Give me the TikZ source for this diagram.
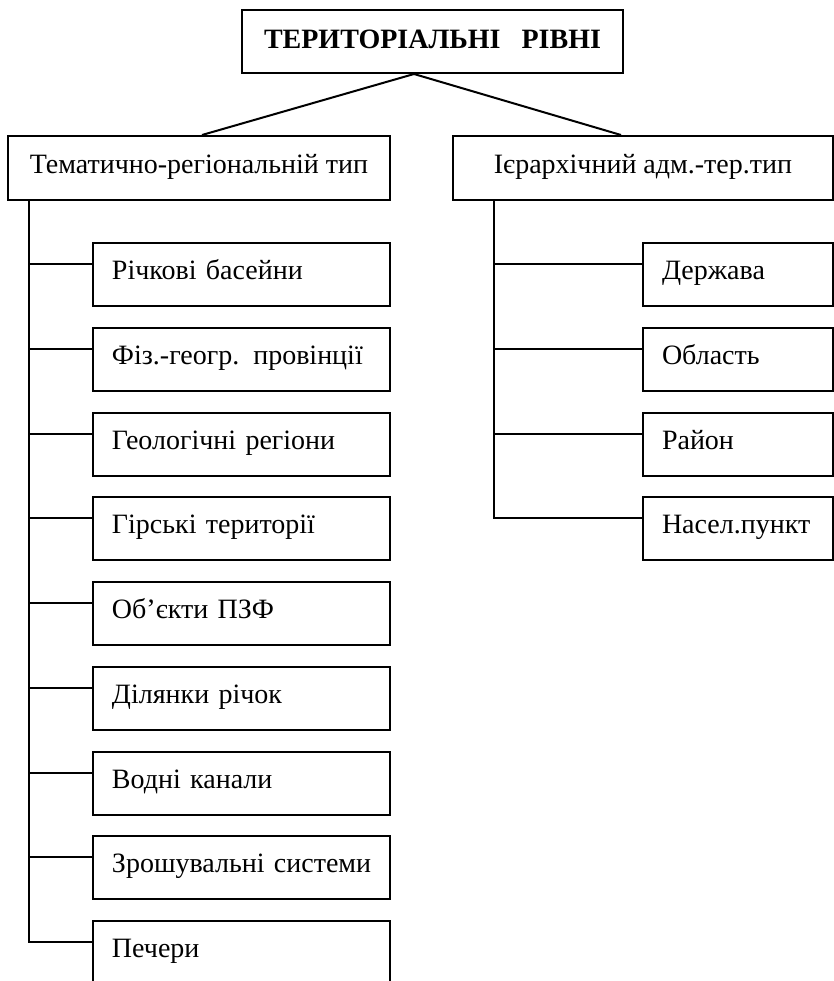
\documentclass[tikz,border=0pt]{standalone}
\usepackage{fontspec}
\setmainfont{Liberation Serif}
\usetikzlibrary{positioning}
\tikzstyle{title} = [rectangle, minimum width=190.5pt, minimum height=31.5pt, text height=10pt, text depth=3.5pt, text centered, draw=black, line width=1pt, font=\fontsize{14}{16}\selectfont\bfseries]
\tikzstyle{branch} = [rectangle, minimum width=191pt, minimum height=32pt, text height=10pt, text depth=5pt, text centered, draw=black, line width=1pt, font=\fontsize{14}{16}\selectfont]
\tikzstyle{leaf} = [rectangle, inner xsep=4.75pt, text width=139pt, minimum height=31.5pt, text height=10pt, text depth=5pt, align=left, draw=black, line width=1pt, font=\fontsize{14}{16}\selectfont, execute at begin node={\hspace*{4.75pt}}]
\tikzstyle{unit} = [leaf, text width=85.5pt]
\tikzstyle{link} = [line width=1pt]

\begin{document}
\begin{tikzpicture}[node distance=42.375pt]
\useasboundingbox (0,0) rectangle (417pt,-490.5pt);

\node (levels) [title] at (216.25pt,-20.75pt) {ТЕРИТОРІАЛЬНІ \ \ РІВНІ};

\node (thematic) [branch] at (99.5pt,-84pt) {Тематично-регіональній тип};
\node (hierarchy) [branch, minimum width=190pt] at (321.5pt,-84pt) {Ієрархічний адм.-тер.тип};

\node (basins) [leaf, below of=thematic, xshift=21.25pt, yshift=-10.875pt] {Річкові басейни};
\node (provinces) [leaf, below of=basins] {Фіз.-геогр. провінції};
\node (geology) [leaf, below of=provinces] {Геологічні регіони};
\node (mountains) [leaf, below of=geology] {Гірські території};
\node (reserves) [leaf, below of=mountains] {Об’єкти ПЗФ};
\node (reaches) [leaf, below of=reserves] {Ділянки річок};
\node (canals) [leaf, below of=reaches] {Водні канали};
\node (irrigation) [leaf, below of=canals] {Зрошувальні системи};
\node (caves) [leaf, below of=irrigation] {Печери};

\node (state) [unit, below of=hierarchy, xshift=47.5pt, yshift=-10.875pt] {Держава};
\node (oblast) [unit, below of=state] {Область};
\node (district) [unit, below of=oblast] {Район};
\node (settlement) [unit, below of=district] {Насел.пункт};

\coordinate (apex) at ([xshift=-9.25pt]levels.south);
\coordinate (ltrunk) at ([xshift=11pt]thematic.south west);
\coordinate (rtrunk) at ([xshift=21pt]hierarchy.south west);

\draw [link] (apex) -- ([xshift=1.5pt]thematic.north);
\draw [link] (apex) -- ([xshift=-11pt]hierarchy.north);

\draw [link] ([yshift=5.25pt]basins.west) -| (ltrunk);
\draw [link] ([yshift=5.25pt]provinces.west) -| (ltrunk);
\draw [link] ([yshift=5.25pt]geology.west) -| (ltrunk);
\draw [link] ([yshift=5.25pt]mountains.west) -| (ltrunk);
\draw [link] ([yshift=5.25pt]reserves.west) -| (ltrunk);
\draw [link] ([yshift=5.25pt]reaches.west) -| (ltrunk);
\draw [link] ([yshift=5.25pt]canals.west) -| (ltrunk);
\draw [link] ([yshift=5.25pt]irrigation.west) -| (ltrunk);
\draw [link] ([yshift=5.25pt]caves.west) -| (ltrunk);

\draw [link] ([yshift=5.25pt]state.west) -| (rtrunk);
\draw [link] ([yshift=5.25pt]oblast.west) -| (rtrunk);
\draw [link] ([yshift=5.25pt]district.west) -| (rtrunk);
\draw [link] ([yshift=5.25pt]settlement.west) -| (rtrunk);

\end{tikzpicture}
\end{document}
